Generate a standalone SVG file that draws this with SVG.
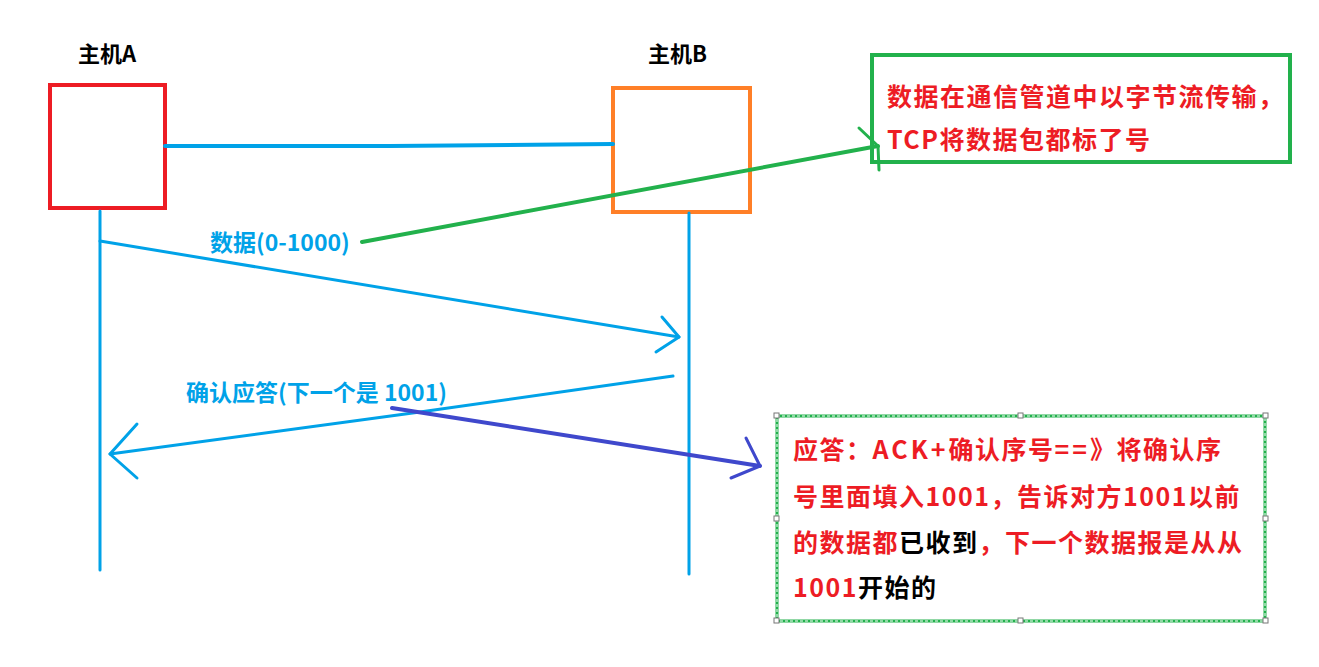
<svg xmlns="http://www.w3.org/2000/svg" width="1319" height="667" viewBox="0 0 1319 667">
<style>
.title{font-family:"Noto Sans CJK SC","Noto Sans",sans-serif;font-weight:bold;font-size:22px;fill:#000}
.blue{font-family:"Noto Sans CJK SC","Noto Sans",sans-serif;font-weight:bold;font-size:23px;fill:#00A2E8}
.note{font-family:"Noto Sans CJK SC","Liberation Sans",sans-serif;font-weight:bold;font-size:25px;fill:#ED1C24;letter-spacing:1.5px}
.k{fill:#000}
.w{letter-spacing:3px}
.ln{fill:none;stroke-linecap:round;stroke-linejoin:round}
.handle{fill:#fff;stroke:#777;stroke-width:1}
</style>
<rect width="1319" height="667" fill="#fff"/>
<g id="hostA">
  <text class="title" x="78" y="62">主机A</text>
  <rect x="50" y="85" width="115" height="123" fill="none" stroke="#ED1C24" stroke-width="4"/>
</g>
<g id="hostB">
  <text class="title" x="648" y="62">主机B</text>
  <rect x="613" y="88" width="137" height="124" fill="none" stroke="#FF7F27" stroke-width="4"/>
</g>
<g id="connectors">
  <path class="ln" d="M165,146 L390,146 L613,144" stroke="#00A2E8" stroke-width="4"/>
  <line class="ln" x1="100" y1="211" x2="100" y2="570" stroke="#00A2E8" stroke-width="3"/>
  <line class="ln" x1="689" y1="213" x2="689" y2="574" stroke="#00A2E8" stroke-width="3"/>
  <path class="ln" d="M100,241 L679,337" stroke="#00A2E8" stroke-width="3"/>
  <path class="ln" d="M662,317 L679,337 L656,352" stroke="#00A2E8" stroke-width="3"/>
  <path class="ln" d="M673,376 L420,412 L110,454" stroke="#00A2E8" stroke-width="3"/>
  <path class="ln" d="M137,424 L110,454 L137,478" stroke="#00A2E8" stroke-width="3"/>
  <path class="ln" d="M362,242 L878,146" stroke="#22B14C" stroke-width="4"/>
  <path class="ln" d="M859,128 L878,146 L879,170" stroke="#22B14C" stroke-width="3"/>
  <path class="ln" d="M392,408 L760,466" stroke="#3F48CC" stroke-width="4"/>
  <path class="ln" d="M746,438 L760,466 L731,478" stroke="#3F48CC" stroke-width="3"/>
</g>
<g id="label-data">
  <text class="blue" x="210" y="251">数据(0-1000)</text>
</g>
<g id="label-ack">
  <text class="blue" x="186" y="401">确认应答(下一个是 1001)</text>
</g>
<g id="note-top">
  <rect x="872" y="55" width="418" height="107" fill="none" stroke="#22B14C" stroke-width="4"/>
  <text class="note" x="887" y="106">数据在通信管道中以字节流传输，</text>
  <text class="note" x="887" y="149">TCP将数据包都标了号</text>
</g>
<g id="note-bottom">
  <rect x="777" y="416" width="488" height="205" fill="none" stroke="#22B14C" stroke-width="3"/>
  <rect x="777" y="416" width="488" height="205" fill="none" stroke="#fff" stroke-width="1" stroke-dasharray="3,2"/>
  <rect x="774" y="413" width="5" height="5" class="handle"/>
  <rect x="1018" y="413" width="5" height="5" class="handle"/>
  <rect x="1263" y="413" width="5" height="5" class="handle"/>
  <rect x="774" y="516" width="5" height="5" class="handle"/>
  <rect x="1263" y="516" width="5" height="5" class="handle"/>
  <rect x="774" y="618" width="5" height="5" class="handle"/>
  <rect x="1018" y="618" width="5" height="5" class="handle"/>
  <rect x="1263" y="618" width="5" height="5" class="handle"/>
  <text class="note" x="793" y="459">应答：<tspan class="w">ACK+</tspan>确认序号<tspan class="w">==</tspan>》将确认序</text>
  <text class="note" x="793" y="506">号里面填入1001，告诉对方1001以前</text>
  <text class="note" x="793" y="552">的数据都<tspan class="k">已收到</tspan>，下一个数据报是从从</text>
  <text class="note" x="793" y="597">1001<tspan class="k">开始的</tspan></text>
</g>
</svg>
